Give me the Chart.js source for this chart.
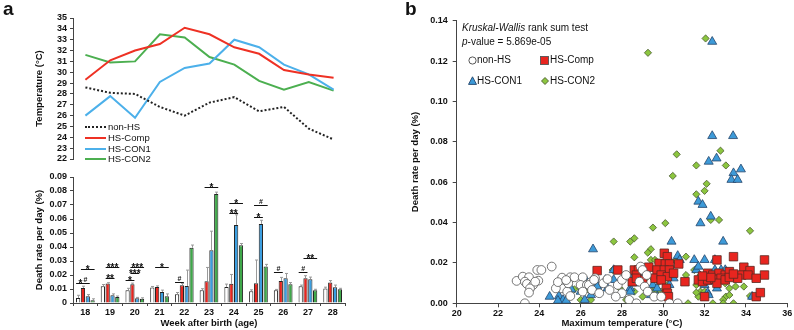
<!DOCTYPE html>
<html>
<head>
<meta charset="utf-8">
<script src="https://cdn.jsdelivr.net/npm/chart.js@4.4.1/dist/chart.umd.min.js"></script>
<style>
body { margin: 0; width: 794px; height: 330px; position: relative; background: #fff; overflow: hidden;
       font-family: "Liberation Sans", Arial, sans-serif; color: #111; }
canvas { position: absolute; }
.t { position: absolute; white-space: nowrap; font-size: 10px; line-height: 12px; }
.panel { position: absolute; font-size: 19px; line-height: 19px; font-weight: bold; }
.sw { position: absolute; width: 21px; height: 0; }
</style>
</head>
<body>
<canvas id="temp" style="left:0px;top:0px" width="360" height="168"></canvas>
<canvas id="rate" style="left:0px;top:165px" width="360" height="165"></canvas>
<canvas id="scatter" style="left:400px;top:0px" width="394" height="330"></canvas>

<div class="panel" style="left:3px;top:-1px">a</div>
<div class="panel" style="left:405px;top:-1px">b</div>

<!-- legend, panel a -->
<div class="sw" style="left:85px;top:126px;border-top:2px dotted #222"></div>
<div class="t" style="left:108px;top:121px;font-size:9.5px">non-HS</div>
<div class="sw" style="left:85px;top:137px;border-top:2px solid #ee3124"></div>
<div class="t" style="left:108px;top:132px;font-size:9.5px">HS-Comp</div>
<div class="sw" style="left:85px;top:148px;border-top:2px solid #4cb0ea"></div>
<div class="t" style="left:108px;top:143px;font-size:9.5px">HS-CON1</div>
<div class="sw" style="left:85px;top:158px;border-top:2px solid #4caf50"></div>
<div class="t" style="left:108px;top:153px;font-size:9.5px">HS-CON2</div>

<!-- legend, panel b -->
<div class="t" style="left:462px;top:22px"><i>Kruskal-Wallis</i> rank sum test</div>
<div class="t" style="left:462px;top:36px"><i>p</i>-value = 5.869e-05</div>
<svg style="position:absolute;left:468px;top:56px" width="9" height="9"><circle cx="4.5" cy="4.5" r="3.6" fill="#fff" stroke="#444" stroke-width="0.9"/></svg>
<div class="t" style="left:477px;top:54px">non-HS</div>
<svg style="position:absolute;left:540px;top:56px" width="9" height="9"><rect x="0.5" y="0.5" width="8" height="8" fill="#e8251f" stroke="#555" stroke-width="0.9"/></svg>
<div class="t" style="left:550px;top:54px">HS-Comp</div>
<svg style="position:absolute;left:468px;top:76px" width="9" height="9"><polygon points="4.5,0.8 8.5,8.4 0.5,8.4" fill="#3d9ad8" stroke="#24456b" stroke-width="0.9"/></svg>
<div class="t" style="left:477px;top:75px">HS-CON1</div>
<svg style="position:absolute;left:541px;top:77px" width="8" height="8"><polygon points="4,0.5 7.5,4 4,7.5 0.5,4" fill="#8cc63f" stroke="#4a5a30" stroke-width="0.9"/></svg>
<div class="t" style="left:550px;top:75px">HS-CON2</div>

<script>
// ---- panel a, top: weekly max temperature ----
const weeks = ['18', '19', '20', '21', '22', '23', '24', '25', '26', '27', '28'];
const tempNonHS = [28.6, 28.1, 28.0, 26.8, 26.0, 27.2, 27.7, 26.4, 26.8, 24.8, 23.8];
const tempComp  = [29.3, 31.1, 32.0, 32.6, 34.1, 33.5, 32.3, 31.7, 30.2, 29.8, 29.5];
const tempCon1  = [26.0, 27.8, 25.8, 29.1, 30.4, 30.8, 33.0, 32.3, 30.7, 29.8, 28.4];
const tempCon2  = [31.6, 30.9, 31.0, 33.5, 33.2, 31.4, 30.7, 29.2, 28.4, 29.1, 28.3];

// ---- panel a, bottom: death rate per day (mean, + error) ----
const rateNonHS = [0.0036, 0.0120, 0.0091, 0.0110, 0.0062, 0.0091, 0.0115, 0.0084, 0.0091, 0.0120, 0.0103];
const rateComp  = [0.0108, 0.0139, 0.0134, 0.0115, 0.0127, 0.0156, 0.0137, 0.0141, 0.0158, 0.0177, 0.0146];
const rateCon1  = [0.0048, 0.0055, 0.0034, 0.0079, 0.0122, 0.0376, 0.0558, 0.0565, 0.0177, 0.0170, 0.0113];
const rateCon2  = [0.0020, 0.0043, 0.0030, 0.0049, 0.0395, 0.0778, 0.0412, 0.0261, 0.0134, 0.0091, 0.0098];
const errNonHS = [0.0019, 0.0012, 0.0014, 0.0008, 0.0013, 0.0011, 0.0020, 0.0010, 0.0006, 0.0008, 0.0010];
const errComp  = [0.0012, 0.0006, 0.0008, 0.0007, 0.0013, 0.0098, 0.0067, 0.0166, 0.0025, 0.0018, 0.0014];
const errCon1  = [0.0012, 0.0010, 0.0006, 0.0013, 0.0113, 0.0137, 0.0072, 0.0026, 0.0034, 0.0015, 0.0015];
const errCon2  = [0.0010, 0.0007, 0.0007, 0.0016, 0.0019, 0.0014, 0.0013, 0.0015, 0.0012, 0.0007, 0.0007];

// significance brackets: week index, from group, to group, level, label
const sigWeek  = [0, 0, 0, 1, 1, 2, 2, 2, 3, 4, 5, 6, 6, 7, 7, 8, 9, 9];
const sigFrom  = [0, 1, 1, 1, 1, 0, 1, 1, 1, 0, 1, 1, 1, 1, 1, 0, 0, 1];
const sigTo    = [1, 2, 3, 3, 2, 1, 2, 3, 3, 1, 3, 3, 2, 3, 2, 1, 1, 3];
const sigLevel = [0.0144, 0.0146, 0.0240, 0.0258, 0.0182, 0.0163, 0.0211, 0.0258, 0.0254, 0.0150,
                  0.0826, 0.0714, 0.0646, 0.0701, 0.0613, 0.0223, 0.0223, 0.0319];
const sigText  = ['*', '#', '*', '***', '**', '*', '***', '***', '*', '#', '*', '*', '**', '#', '*', '#', '#', '**'];

// ---- panel b: death rate vs. max temperature ----
const ptsNonHS = [
  [22.9, 0.0111], [23.2, 0.0132], [23.5, 0.0129], [23.3, 0.0107], [23.4, 0.0096], [23.7, 0.0091],
  [23.55, 0.0074], [23.5, 0.0053], [23.3, 0.0], [23.9, 0.0165], [24.1, 0.0165], [23.95, 0.0112],
  [23.8, 0.0107], [24.6, 0.0182], [25.1, 0.0127], [25.5, 0.0129], [25.7, 0.0129], [26.1, 0.0129],
  [25.1, 0.0074], [24.8, 0.0074], [25.35, 0.0058], [25.5, 0.0036], [26.0, 0.0091], [26.3, 0.0091],
  [26.7, 0.0124], [25.4, 0.0099], [26.1, 0.0058], [24.9, 0.0105], [25.3, 0.0115], [26.5, 0.0105],
  [26.4, 0.0091], [26.65, 0.0116], [26.55, 0.0066], [26.9, 0.0050], [27.1, 0.0099], [27.4, 0.0066],
  [27.8, 0.0091], [28.0, 0.0050], [27.7, 0.0033], [28.35, 0.0017], [28.7, 0.0], [28.9, 0.0182],
  [29.0, 0.0165], [29.2, 0.0140], [28.85, 0.0107], [29.1, 0.0083], [29.25, 0.0058], [29.56, 0.0033],
  [29.9, 0.0033], [30.3, 0.0], [30.7, 0.0], [28.0, 0.0116], [28.2, 0.0140], [27.3, 0.0120]
];
const ptsComp = [
  [26.8, 0.0162], [30.05, 0.0248], [30.2, 0.0231], [32.6, 0.0215], [33.4, 0.0231], [34.9, 0.0215],
  [29.3, 0.0179], [29.8, 0.0198], [30.1, 0.0195], [30.3, 0.0195], [30.75, 0.0195], [28.6, 0.0165],
  [28.8, 0.0165], [27.8, 0.0165], [29.7, 0.0165], [30.05, 0.0165], [30.3, 0.0165], [32.15, 0.0149],
  [32.4, 0.0140], [32.7, 0.0149], [33.0, 0.0140], [33.2, 0.0157], [33.9, 0.0179], [34.2, 0.0162],
  [33.8, 0.0140], [34.9, 0.0140], [28.7, 0.0140], [29.0, 0.0116], [29.6, 0.0124], [29.9, 0.0140],
  [30.2, 0.0132], [30.5, 0.0149], [31.05, 0.0107], [31.7, 0.0116], [31.9, 0.0107], [32.15, 0.0116],
  [32.5, 0.0119], [32.8, 0.0124], [33.6, 0.0124], [34.1, 0.0140], [34.5, 0.0124], [28.5, 0.0107],
  [28.7, 0.0124], [29.9, 0.0116], [30.15, 0.0074], [30.2, 0.0050], [30.25, 0.0033], [32.0, 0.0033],
  [34.5, 0.0033], [34.7, 0.0053], [32.6, 0.0099], [33.0, 0.0116], [33.2, 0.0128], [32.3, 0.0128],
  [31.9, 0.0135], [33.4, 0.0145]
];
const ptsCon1 = [
  [24.5, 0.0033], [25.0, 0.0086], [24.95, 0.0036], [25.15, 0.0017], [24.9, 0.0013], [25.3, 0.0013],
  [25.3, 0.0071], [25.55, 0.0069], [26.0, 0.0058], [26.2, 0.0017], [26.3, 0.0107], [26.5, 0.0041],
  [26.6, 0.0268], [26.8, 0.0091], [32.37, 0.1296], [32.37, 0.0829], [33.38, 0.0829], [32.2, 0.0702],
  [32.58, 0.0718], [33.4, 0.0645], [33.76, 0.0664], [33.3, 0.0612], [33.6, 0.0612], [31.7, 0.0504],
  [31.9, 0.0488], [32.3, 0.0430], [31.8, 0.0397], [30.4, 0.0306], [32.9, 0.0306], [30.7, 0.0235],
  [31.5, 0.0215], [32.0, 0.0215], [32.5, 0.0215], [30.8, 0.0215], [30.3, 0.0215], [31.6, 0.0165],
  [32.5, 0.0165], [32.8, 0.0165], [33.0, 0.0165], [31.7, 0.0182], [30.5, 0.0124], [29.0, 0.0140],
  [27.6, 0.0165], [27.2, 0.0116], [27.6, 0.0116], [28.5, 0.0124], [28.6, 0.0099], [26.6, 0.0091],
  [26.8, 0.0083], [27.3, 0.0074], [28.4, 0.0074], [29.5, 0.0091], [30.3, 0.0091], [29.7, 0.0074],
  [32.0, 0.0091], [32.15, 0.0107], [32.6, 0.0074], [28.4, 0.0058], [29.4, 0.0041], [29.7, 0.0033],
  [32.15, 0.0053], [32.2, 0.0041], [34.3, 0.0033], [30.2, 0.0058]
];
const ptsCon2 = [
  [32.05, 0.1312], [29.26, 0.1241], [32.77, 0.0756], [30.65, 0.0738], [31.6, 0.0683], [30.46, 0.0631],
  [33.03, 0.0683], [32.1, 0.0592], [32.0, 0.0557], [31.6, 0.0540], [32.3, 0.0413], [32.7, 0.0413],
  [34.2, 0.0359], [30.1, 0.0397], [29.5, 0.0375], [27.6, 0.0306], [28.4, 0.0306], [28.6, 0.0322],
  [29.4, 0.0268], [29.25, 0.0251], [28.6, 0.0228], [29.4, 0.0215], [29.6, 0.0215], [30.6, 0.0210],
  [31.1, 0.0231], [29.4, 0.0179], [27.55, 0.0165], [27.8, 0.0165], [28.8, 0.0165], [31.5, 0.0165],
  [31.8, 0.0140], [30.5, 0.0140], [29.2, 0.0129], [29.5, 0.0124], [32.9, 0.0124], [31.1, 0.0140],
  [29.0, 0.0099], [29.8, 0.0107], [30.2, 0.0091], [31.6, 0.0091], [33.0, 0.0099], [33.5, 0.0083],
  [33.2, 0.0074], [33.9, 0.0083], [26.7, 0.0074], [26.6, 0.0058], [27.9, 0.0074], [28.6, 0.0058],
  [29.6, 0.0079], [29.7, 0.0058], [29.4, 0.0058], [29.9, 0.0058], [31.8, 0.0058], [31.7, 0.0033],
  [32.0, 0.0058], [31.6, 0.0053], [33.03, 0.0033], [33.2, 0.0041], [34.2, 0.0036], [32.9, 0.0017],
  [28.2, 0.0017], [29.0, 0.0033], [31.2, 0.0], [32.4, 0.0], [32.9, 0.0], [33.4, 0.0],
  [30.2, 0.0041], [30.4, 0.0149], [25.7, 0.0069], [26.0, 0.0074], [26.3, 0.0069], [26.0, 0.0017],
  [26.5, 0.0017], [26.8, 0.0058]
];

const FONT = '"Liberation Sans", Arial, sans-serif';
const tickFont = { family: FONT, size: 9, weight: 'bold' };
const titleFont = { family: FONT, size: 9.5, weight: 'bold' };
const toXY = (p) => ({ x: p[0], y: p[1] });

function outerGrid(len) {
  return { drawOnChartArea: false, tickLength: len, color: '#444', lineWidth: 1 };
}

//--------------------------------------------------------------
// line chart: temperature
//--------------------------------------------------------------
new Chart(document.getElementById('temp'), {
  type: 'line',
  data: {
    labels: weeks,
    datasets: [
      { label: 'non-HS', data: tempNonHS, borderColor: '#222', borderWidth: 2, borderDash: [2, 2] },
      { label: 'HS-Comp', data: tempComp, borderColor: '#ee3124', borderWidth: 2 },
      { label: 'HS-CON1', data: tempCon1, borderColor: '#4cb0ea', borderWidth: 2 },
      { label: 'HS-CON2', data: tempCon2, borderColor: '#4caf50', borderWidth: 2 }
    ]
  },
  options: {
    responsive: false,
    animation: false,
    layout: { padding: { top: 18, right: 14, bottom: 9, left: 32 } },
    elements: { point: { radius: 0 }, line: { tension: 0 } },
    plugins: { legend: { display: false }, tooltip: { enabled: false } },
    scales: {
      x: { display: false, offset: true },
      y: {
        min: 22, max: 35,
        ticks: { stepSize: 1, autoSkip: false, font: tickFont, color: '#111', padding: 3 },
        grid: outerGrid(3),
        border: { color: '#444' },
        title: { display: true, text: 'Temperature (°C)', font: titleFont, color: '#111', padding: 2 },
        afterFit(s) { s.width = 41; }
      }
    }
  }
});

//--------------------------------------------------------------
// bar chart: death rate, with error bars and significance marks
//--------------------------------------------------------------
const errorBars = {
  id: 'errorBars',
  afterDatasetsDraw(chart) {
    const ctx = chart.ctx, y = chart.scales.y;
    ctx.save();
    ctx.strokeStyle = '#9a9a9a';
    ctx.lineWidth = 1;
    chart.data.datasets.forEach((ds, i) => {
      chart.getDatasetMeta(i).data.forEach((bar, j) => {
        const top = y.getPixelForValue(ds.data[j] + ds.errors[j]);
        const x = Math.round(bar.x) + 0.5;
        ctx.beginPath();
        ctx.moveTo(x, bar.y);
        ctx.lineTo(x, top);
        ctx.moveTo(x - 1.5, top);
        ctx.lineTo(x + 1.5, top);
        ctx.stroke();
      });
    });
    ctx.restore();
  }
};

const sigMarks = {
  id: 'sigMarks',
  afterDatasetsDraw(chart) {
    const ctx = chart.ctx, y = chart.scales.y;
    ctx.save();
    ctx.strokeStyle = '#111';
    ctx.fillStyle = '#111';
    ctx.lineWidth = 1;
    ctx.textAlign = 'center';
    sigWeek.forEach((w, k) => {
      const a = chart.getDatasetMeta(sigFrom[k]).data[w];
      const b = chart.getDatasetMeta(sigTo[k]).data[w];
      const py = Math.round(y.getPixelForValue(sigLevel[k])) + 0.5;
      ctx.beginPath();
      ctx.moveTo(a.x - 2, py);
      ctx.lineTo(b.x + 2, py);
      ctx.stroke();
      if (sigText[k] === '#') {
        ctx.font = 'bold 7px ' + FONT;
        ctx.fillText('#', (a.x + b.x) / 2, py - 1.5);
      } else {
        ctx.font = 'bold 10px ' + FONT;
        ctx.fillText(sigText[k], (a.x + b.x) / 2, py + 3.5);
      }
    });
    ctx.restore();
  }
};

new Chart(document.getElementById('rate'), {
  type: 'bar',
  data: {
    labels: weeks,
    datasets: [
      { label: 'non-HS', data: rateNonHS, errors: errNonHS, backgroundColor: '#ffffff', borderColor: '#222' },
      { label: 'HS-Comp', data: rateComp, errors: errComp, backgroundColor: '#e8251f', borderColor: '#222' },
      { label: 'HS-CON1', data: rateCon1, errors: errCon1, backgroundColor: '#3b9ee0', borderColor: '#222' },
      { label: 'HS-CON2', data: rateCon2, errors: errCon2, backgroundColor: '#3fa84a', borderColor: '#222' }
    ]
  },
  options: {
    responsive: false,
    animation: false,
    layout: { padding: { top: 12, right: 15, bottom: 0, left: 32 } },
    elements: { bar: { borderWidth: 1 } },
    datasets: { bar: { categoryPercentage: 0.78, barPercentage: 0.88 } },
    plugins: { legend: { display: false }, tooltip: { enabled: false } },
    scales: {
      x: {
        ticks: { font: tickFont, color: '#111', padding: 1 },
        grid: { drawOnChartArea: false, tickLength: 3, color: '#444', offset: true },
        border: { color: '#444' },
        title: { display: true, text: 'Week after birth (age)', font: titleFont, color: '#111', padding: { top: 1, bottom: 1 } },
        afterFit(s) { s.height = 27; }
      },
      y: {
        min: 0, max: 0.09,
        ticks: {
          stepSize: 0.01, autoSkip: false, font: tickFont, color: '#111', padding: 3,
          callback: (v) => (v === 0 ? '0' : v.toFixed(2))
        },
        grid: outerGrid(3),
        border: { color: '#444' },
        title: { display: true, text: 'Death rate per day (%)', font: titleFont, color: '#111', padding: 2 },
        afterFit(s) { s.width = 41; }
      }
    }
  },
  plugins: [errorBars, sigMarks]
});

//--------------------------------------------------------------
// scatter: death rate vs max temperature
//--------------------------------------------------------------
new Chart(document.getElementById('scatter'), {
  type: 'scatter',
  data: {
    datasets: [
      { label: 'non-HS', data: ptsNonHS.map(toXY), pointStyle: 'circle', pointRadius: 4.4,
        backgroundColor: '#ffffff', borderColor: '#555', borderWidth: 0.8 },
      { label: 'HS-Comp', data: ptsComp.map(toXY), pointStyle: 'rect', pointRadius: 6,
        backgroundColor: '#e8251f', borderColor: '#5a2a22', borderWidth: 0.8 },
      { label: 'HS-CON1', data: ptsCon1.map(toXY), pointStyle: 'triangle', pointRadius: 5.2,
        backgroundColor: '#3d9ad8', borderColor: '#24456b', borderWidth: 0.8 },
      { label: 'HS-CON2', data: ptsCon2.map(toXY), pointStyle: 'rectRot', pointRadius: 3.6,
        backgroundColor: '#8cc63f', borderColor: '#4a5a30', borderWidth: 0.8 }
    ]
  },
  options: {
    responsive: false,
    animation: false,
    layout: { padding: { top: 20.7, right: 4, bottom: 0, left: 8 } },
    plugins: { legend: { display: false }, tooltip: { enabled: false } },
    scales: {
      x: {
        type: 'linear', min: 20, max: 36,
        ticks: { stepSize: 2, font: tickFont, color: '#111', padding: 1 },
        grid: outerGrid(4),
        border: { color: '#444' },
        title: { display: true, text: 'Maximum temperature (°C)', font: titleFont, color: '#111', padding: { top: 1, bottom: 1 } },
        afterFit(s) { s.height = 26.7; }
      },
      y: {
        min: 0, max: 0.14,
        ticks: { stepSize: 0.02, font: tickFont, color: '#111', padding: 5,
                 callback: (v) => v.toFixed(2) },
        grid: outerGrid(4),
        border: { color: '#444' },
        title: { display: true, text: 'Death rate per day (%)', font: titleFont, color: '#111', padding: 2 },
        afterFit(s) { s.width = 48.7; }
      }
    }
  }
});
</script>
</body>
</html>
